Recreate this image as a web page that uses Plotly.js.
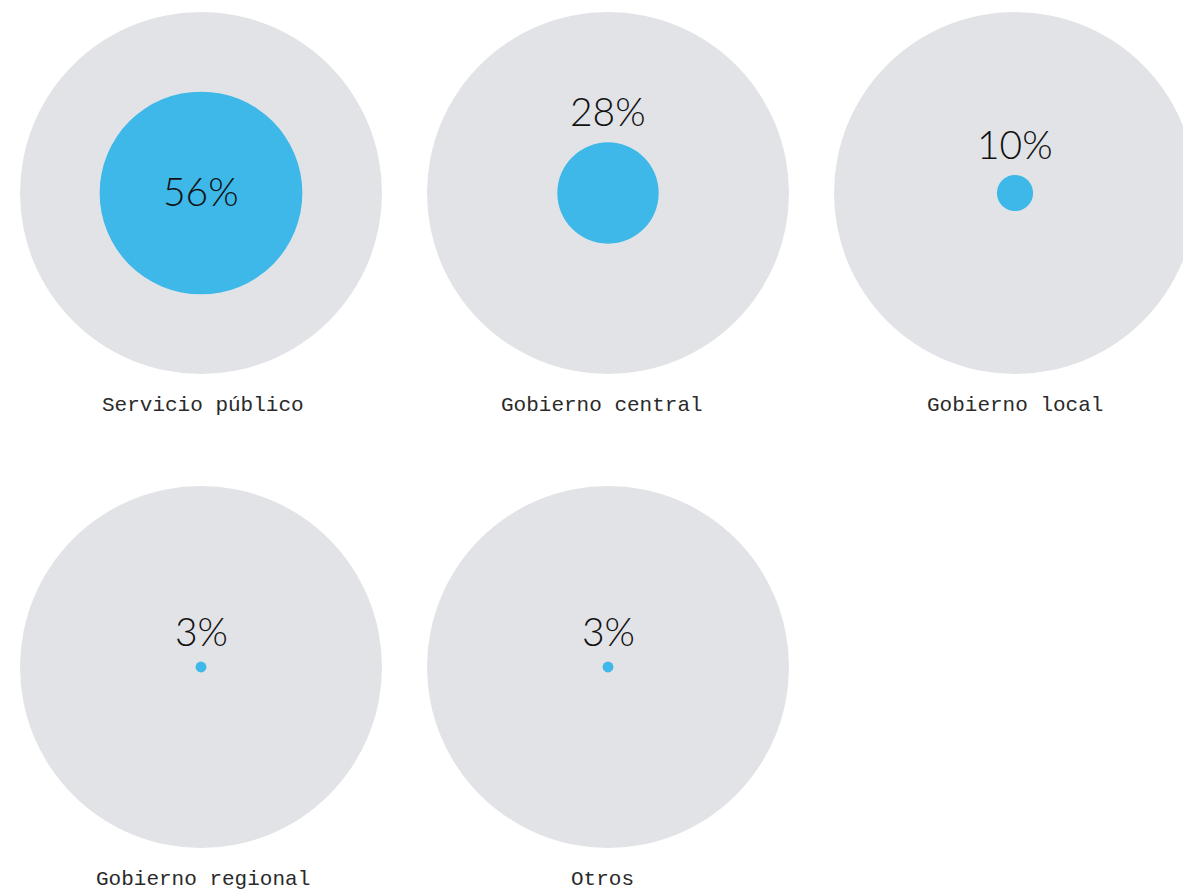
<!DOCTYPE html>
<html>
<head>
<meta charset="utf-8">
<script src="https://cdn.plot.ly/plotly-3.0.1.min.js"></script>
<style>html,body{margin:0;padding:0;background:#fff;}#chart{width:1183px;height:891px;}</style>
</head>
<body>
<div id="chart"></div>
<script>
const categories = ["Servicio público", "Gobierno central", "Gobierno local", "Gobierno regional", "Otros"];
const values = [56, 28, 10, 3, 3];
const valueLabels = ["56%", "28%", "10%", "3%", "3%"];

// layout constants (pixel units on the axes)
const W = 1183, H = 891;
const cols = 3;
const x0 = 201, colStep = 407;
const y0 = 193, rowStep = 474;
const labelX = [203, 602, 1015];   // label centres per column
const R = 181;            // radius for 100%
const grey = "#e2e3e7", blue = "#3db8e8";

const shapes = [];
const annotations = [];
categories.forEach((cat, i) => {
  const c = i % cols, r = Math.floor(i / cols);
  const cx = x0 + c * colStep, cy = y0 + r * rowStep;
  const ri = R * values[i] / 100;
  shapes.push({type: "circle", xref: "x", yref: "y", x0: cx - R, x1: cx + R, y0: cy - R, y1: cy + R,
    fillcolor: grey, line: {width: 0}, layer: "below"});
  shapes.push({type: "circle", xref: "x", yref: "y", x0: cx - ri, x1: cx + ri, y0: cy - ri, y1: cy + ri,
    fillcolor: blue, line: {width: 0}, layer: "below"});
  const inside = ri > 80;
  annotations.push({x: cx, y: inside ? cy - 2 : cy - ri - 31, xref: "x", yref: "y", text: valueLabels[i],
    showarrow: false, xanchor: "center", yanchor: "middle",
    font: {family: "Lato", size: 39, color: "#111111", weight: 300}});
  annotations.push({x: labelX[c], y: cy + 212, xref: "x", yref: "y", text: cat,
    showarrow: false, xanchor: "center", yanchor: "middle",
    font: {family: "Liberation Mono", size: 21, color: "#2a2a2a"}});
});

Plotly.newPlot("chart", [{x: [], y: [], type: "scatter", mode: "markers", hoverinfo: "skip"}], {
  width: W, height: H,
  margin: {l: 0, r: 0, t: 0, b: 0},
  paper_bgcolor: "#ffffff", plot_bgcolor: "#ffffff",
  xaxis: {range: [0, W], visible: false, fixedrange: true},
  yaxis: {range: [H, 0], visible: false, fixedrange: true},
  showlegend: false,
  shapes: shapes,
  annotations: annotations
}, {displayModeBar: false, staticPlot: true});
</script>
</body>
</html>
